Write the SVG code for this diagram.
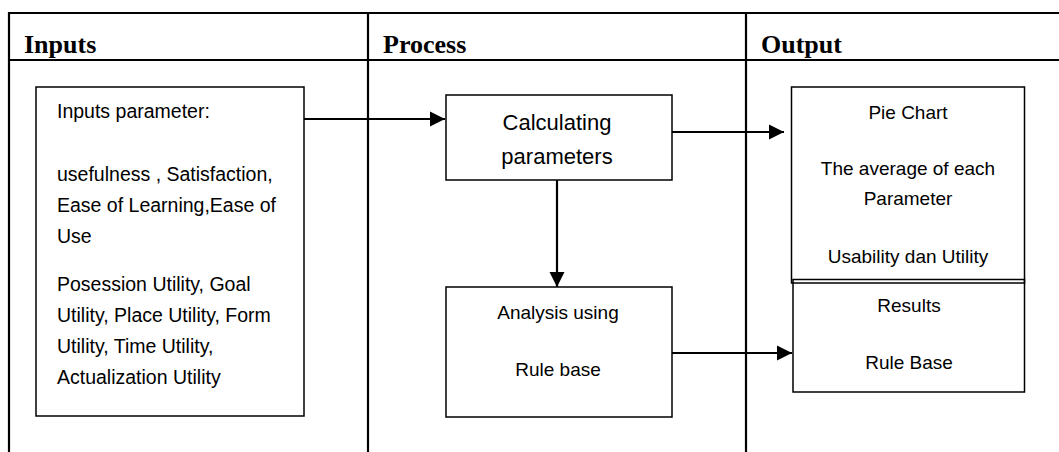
<svg xmlns="http://www.w3.org/2000/svg" width="1059" height="452" viewBox="0 0 1059 452">
<style>
.tbl{stroke:#000;stroke-width:2.2;fill:none}
.box{stroke:#000;stroke-width:1.5;fill:#fff}
.con{stroke:#000;stroke-width:2.2;fill:none}
.hdr{font-family:"Liberation Serif","Times New Roman",serif;font-weight:bold;font-size:26px;fill:#000}
.t{font-family:"Liberation Sans",Arial,sans-serif;font-size:19px;fill:#000}
.tl{font-family:"Liberation Sans",Arial,sans-serif;font-size:19.5px;fill:#000}
.tc{font-family:"Liberation Sans",Arial,sans-serif;font-size:22px;fill:#000}
</style>
<defs>
<marker id="ah" markerUnits="userSpaceOnUse" markerWidth="16" markerHeight="16" viewBox="0 0 16 16" refX="15" refY="8" orient="auto">
<path d="M0,0.5 L15,8 L0,15.5 Z" fill="#000"/>
</marker>
</defs>
<rect width="1059" height="452" fill="#fff"/>
<g id="table">
<line class="tbl" x1="9" y1="13" x2="1059" y2="13"/>
<line class="tbl" x1="9" y1="60" x2="1059" y2="60"/>
<line class="tbl" x1="9" y1="12" x2="9" y2="452"/>
<line class="tbl" x1="368" y1="12" x2="368" y2="452"/>
<line class="tbl" x1="746" y1="12" x2="746" y2="452"/>
<text class="hdr" x="24" y="53">Inputs</text>
<text class="hdr" x="383" y="53">Process</text>
<text class="hdr" x="761" y="53">Output</text>
</g>
<g id="connectors">
<line class="con" x1="304" y1="119" x2="445" y2="119" marker-end="url(#ah)"/>
<line class="con" x1="672" y1="132" x2="784" y2="132" marker-end="url(#ah)"/>
<line class="con" x1="557" y1="180" x2="557" y2="287" marker-end="url(#ah)"/>
<line class="con" x1="672" y1="353" x2="792" y2="353" marker-end="url(#ah)"/>
</g>
<g id="inputs">
<rect class="box" x="36" y="87" width="268" height="329"/>
<text class="tl" x="57" y="118">Inputs parameter:</text>
<text class="tl" x="57" y="181">usefulness , Satisfaction,</text>
<text class="tl" x="57" y="212">Ease of Learning,Ease of</text>
<text class="tl" x="57" y="243">Use</text>
<text class="tl" x="57" y="291">Posession Utility, Goal</text>
<text class="tl" x="57" y="322">Utility, Place Utility, Form</text>
<text class="tl" x="57" y="353">Utility, Time Utility,</text>
<text class="tl" x="57" y="384">Actualization Utility</text>
</g>
<g id="calculating">
<rect class="box" x="446" y="95" width="226" height="85"/>
<text class="tc" x="557" y="130" text-anchor="middle">Calculating</text>
<text class="tc" x="557" y="164" text-anchor="middle">parameters</text>
</g>
<g id="analysis">
<rect class="box" x="446" y="287" width="226" height="130"/>
<text class="t" x="558" y="319" text-anchor="middle">Analysis using</text>
<text class="t" x="558" y="376" text-anchor="middle">Rule base</text>
</g>
<g id="piechart">
<rect class="box" x="791.5" y="87" width="233" height="196"/>
<text class="t" x="908" y="119" text-anchor="middle">Pie Chart</text>
<text class="t" x="908" y="175" text-anchor="middle">The average of each</text>
<text class="t" x="908" y="205" text-anchor="middle">Parameter</text>
<text class="t" x="908" y="263" text-anchor="middle">Usability dan Utility</text>
</g>
<g id="results">
<rect class="box" x="793" y="279.5" width="231.5" height="112.5" style="fill:none"/>
<text class="t" x="909" y="312" text-anchor="middle">Results</text>
<text class="t" x="909" y="369" text-anchor="middle">Rule Base</text>
</g>
</svg>
